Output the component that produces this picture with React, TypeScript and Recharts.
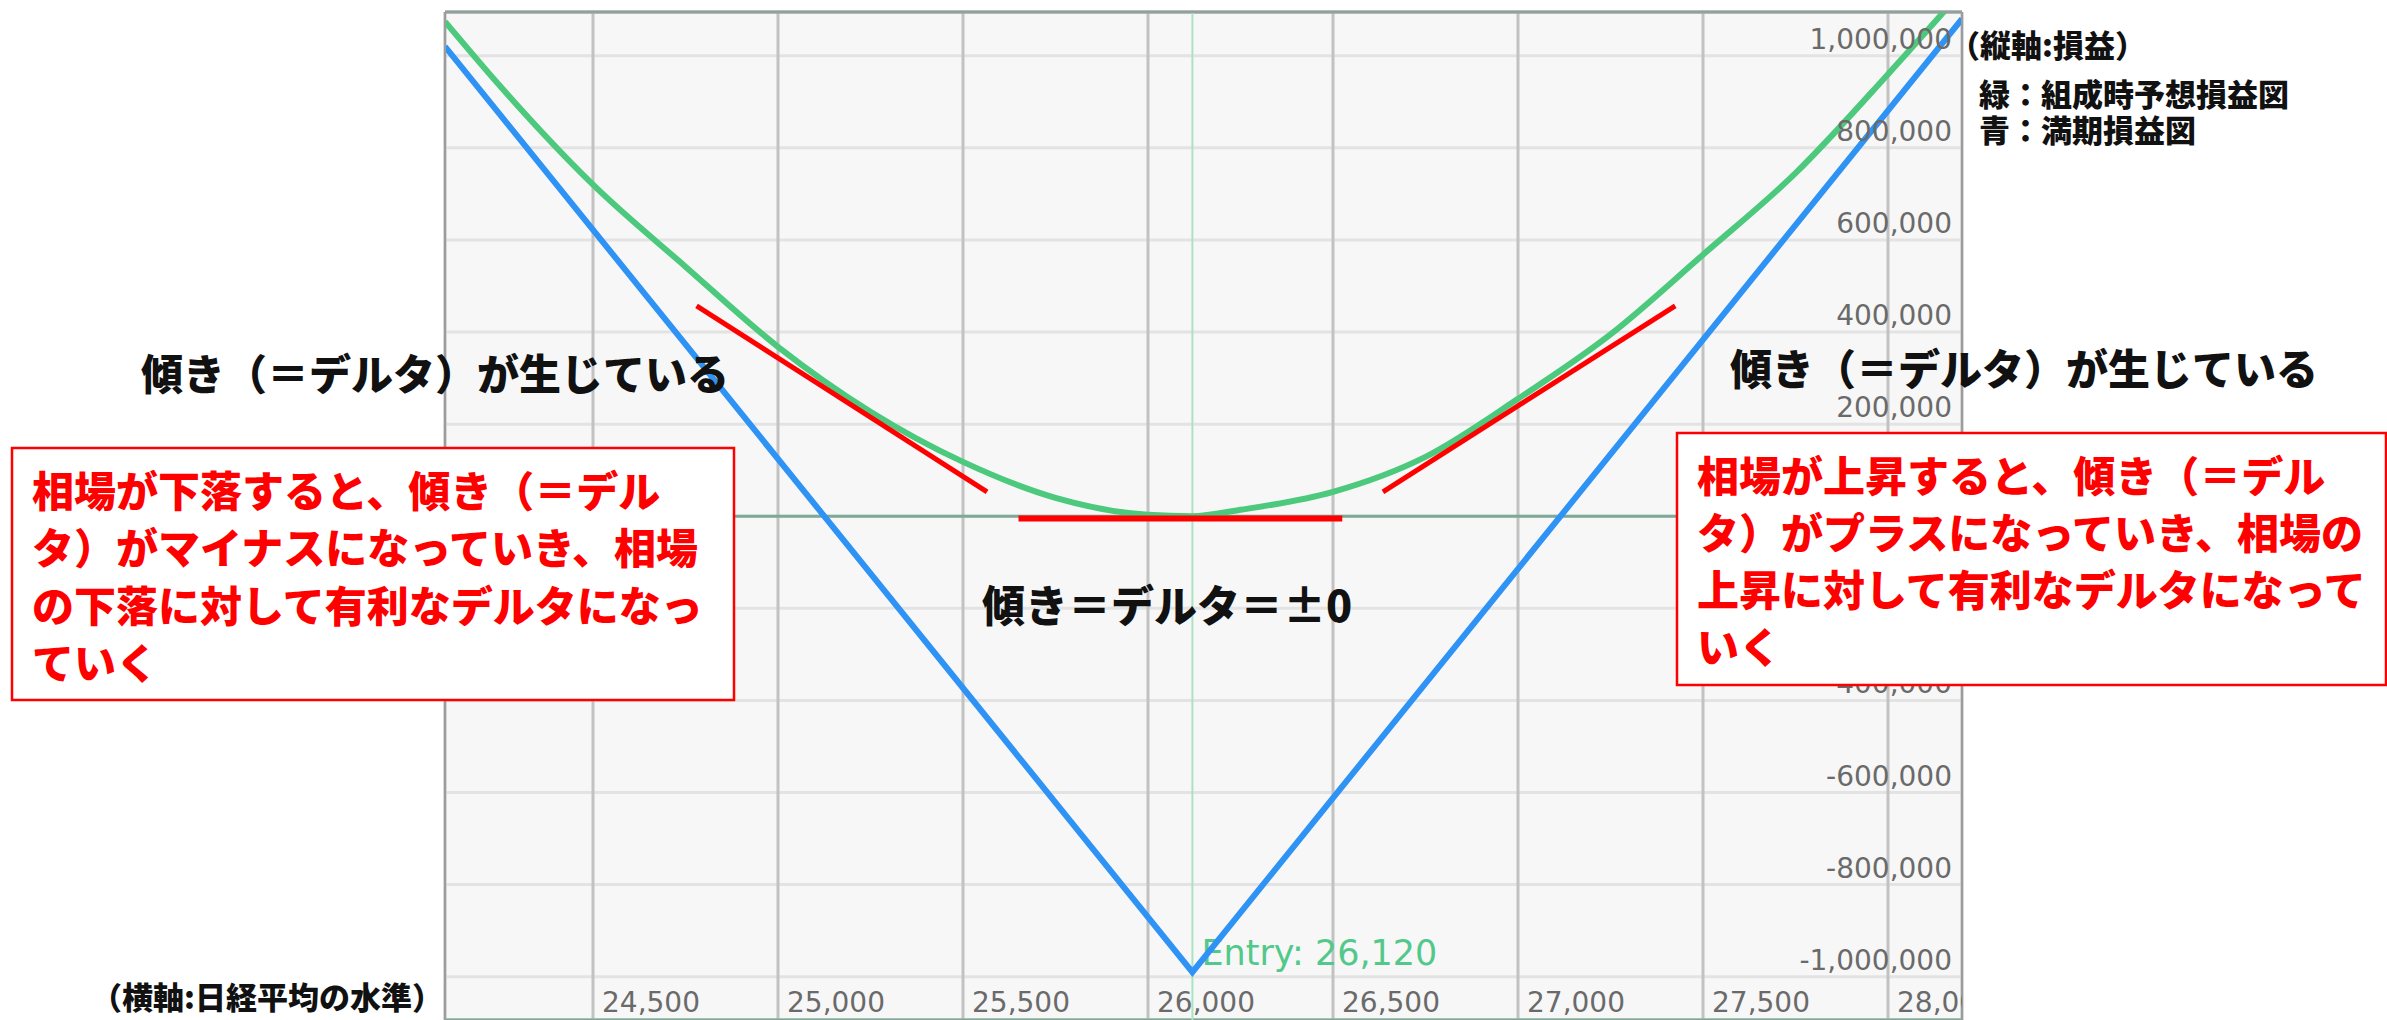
import React from "react";
import {
  ComposedChart,
  Line,
  XAxis,
  YAxis,
  CartesianGrid,
  ReferenceLine,
} from "recharts";

const W = 2387;
const H = 1020;
const PLOT_LEFT = 445;
const PLOT_RIGHT = 1962;
const PLOT_TOP = 12;

const xDomain = [24100, 28200];
const yDomain = [-1094000, 1095000];

const majorXTicks = [24500, 25000, 25500, 26000, 26500, 27000, 27500, 28000];
const minorXTicks = [24250, 24750, 25250, 25750, 26250, 26750, 27250, 27750];
const yTicks = [
  -1000000, -800000, -600000, -400000, -200000, 0, 200000, 400000, 600000, 800000, 1000000,
];
const edgeYTicks = [-1000000, 1000000];
const zeroYTicks = [0];

const entryLevel = 26120;

// 緑：組成時予想損益
const greenPrice = [
  24100, 24250, 24500, 24750, 25000, 25250, 25500, 25750, 26000, 26120, 26250, 26500,
  26750, 27000, 27250, 27500, 27750, 28000, 28200,
];
const greenPnl = [
  1074000, 933000, 720000, 542000, 368000, 227000, 118000, 40000, 3000, 0, 14000, 53000,
  129000, 255000, 395000, 568000, 745000, 960000, 1140000,
];

// 青：満期損益
const bluePrice = [24100, 26120, 28200];
const bluePnl = [1020000, -990000, 1080000];

// 赤い接線 (日経平均, 損益)
const tangentLeft = [
  { x: 24780, y: 457000 },
  { x: 25565, y: 53000 },
];
const tangentFlat = [
  { x: 25650, y: -5000 },
  { x: 26525, y: -5000 },
];
const tangentRight = [
  { x: 26635, y: 53000 },
  { x: 27425, y: 457000 },
];

const greenData = greenPrice.map((x, i) => ({ x, pnl: greenPnl[i] }));
const blueData = bluePrice.map((x, i) => ({ x, pnl: bluePnl[i] }));

const fmt = (v: number) => v.toLocaleString("en-US");

const TICK_FONT = "'DejaVu Sans', Verdana, sans-serif";
const JP_FONT = "'Noto Sans CJK JP', sans-serif";

const XTick = (props: any) => {
  const { x, payload, index } = props;
  const id = `xclip-${index}`;
  return (
    <g>
      <defs>
        <clipPath id={id}>
          <rect x={PLOT_LEFT} y={0} width={PLOT_RIGHT - PLOT_LEFT} height={H} />
        </clipPath>
      </defs>
      <text
        x={x + 9}
        y={H - 8}
        clipPath={`url(#${id})`}
        fontFamily={TICK_FONT}
        fontSize={28}
        fill="#6a6a6a"
        textAnchor="start"
      >
        {fmt(payload.value)}
      </text>
    </g>
  );
};

const YTick = (props: any) => {
  const { y, payload } = props;
  return (
    <text
      x={PLOT_RIGHT - 10}
      y={y - 7}
      fontFamily={TICK_FONT}
      fontSize={28}
      fill="#6a6a6a"
      textAnchor="end"
    >
      {fmt(payload.value)}
    </text>
  );
};

const EntryLabel = (props: any) => {
  const vb = props.viewBox || {};
  return (
    <text
      x={vb.x + 9}
      y={vb.y + vb.height - 55}
      fontFamily={TICK_FONT}
      fontSize={35}
      fill="#52c98a"
    >
      {`Entry: ${fmt(entryLevel)}`}
    </text>
  );
};

const leftBoxLines = [
  "相場が下落すると、傾き（＝デル",
  "タ）がマイナスになっていき、相場",
  "の下落に対して有利なデルタになっ",
  "ていく",
];
const rightBoxLines = [
  "相場が上昇すると、傾き（＝デル",
  "タ）がプラスになっていき、相場の",
  "上昇に対して有利なデルタになって",
  "いく",
];

const border = { stroke: "#9c9c9c", strokeWidth: 2 };

export default function App() {
  return (
    <div style={{ position: "absolute", left: 0, top: 0, width: W, height: H, background: "#fff" }}>
      <ComposedChart
        width={W}
        height={H}
        margin={{ top: PLOT_TOP, left: PLOT_LEFT, right: W - PLOT_RIGHT, bottom: 0 }}
      >
        <XAxis
          xAxisId="x"
          type="number"
          dataKey="x"
          domain={xDomain}
          ticks={majorXTicks}
          allowDataOverflow
          orientation="bottom"
          mirror
          axisLine={false}
          tickLine={false}
          tick={<XTick />}
          interval={0}
        />
        <XAxis
          xAxisId="xMinor"
          type="number"
          dataKey="x"
          domain={xDomain}
          ticks={minorXTicks}
          allowDataOverflow
          orientation="top"
          mirror
          axisLine={border}
          tickLine={false}
          tick={false}
        />
        <YAxis
          yAxisId="y"
          type="number"
          domain={yDomain}
          ticks={yTicks}
          allowDataOverflow
          orientation="right"
          mirror
          axisLine={border}
          tickLine={false}
          tick={<YTick />}
          interval={0}
        />
        <YAxis
          yAxisId="yEdge"
          type="number"
          domain={yDomain}
          ticks={edgeYTicks}
          allowDataOverflow
          orientation="left"
          mirror
          axisLine={border}
          tickLine={false}
          tick={false}
        />
        <YAxis
          yAxisId="yZero"
          type="number"
          domain={yDomain}
          ticks={zeroYTicks}
          allowDataOverflow
          hide
        />
        <CartesianGrid xAxisId="xMinor" yAxisId="y" fill="#f7f7f7" stroke="#e3e3e3" strokeWidth={3} />
        <CartesianGrid xAxisId="x" yAxisId="yEdge" stroke="#c2c2c2" strokeWidth={3} />
        <CartesianGrid xAxisId="x" yAxisId="yZero" vertical={false} stroke="#7ea996" strokeWidth={3} />

        <ReferenceLine
          xAxisId="x"
          yAxisId="y"
          x={entryLevel}
          stroke="#a9e4c2"
          strokeWidth={2}
          label={<EntryLabel />}
        />

        <Line
          xAxisId="x"
          yAxisId="y"
          data={blueData}
          dataKey="pnl"
          type="linear"
          stroke="#2e93f5"
          strokeWidth={6}
          dot={false}
          activeDot={false}
          isAnimationActive={false}
        />
        <Line
          xAxisId="x"
          yAxisId="y"
          data={greenData}
          dataKey="pnl"
          type="monotone"
          stroke="#4cc97d"
          strokeWidth={6}
          dot={false}
          activeDot={false}
          isAnimationActive={false}
        />

        <ReferenceLine xAxisId="x" yAxisId="y" segment={tangentLeft} stroke="#ff0000" strokeWidth={5} ifOverflow="visible" />
        <ReferenceLine xAxisId="x" yAxisId="y" segment={tangentFlat} stroke="#ff0000" strokeWidth={6} ifOverflow="visible" />
        <ReferenceLine xAxisId="x" yAxisId="y" segment={tangentRight} stroke="#ff0000" strokeWidth={5} ifOverflow="visible" />
      </ComposedChart>

      <svg
        width={W}
        height={H}
        style={{ position: "absolute", left: 0, top: 0, pointerEvents: "none" }}
      >
        <g fontFamily={JP_FONT} fontWeight={900} fill="#111" dominantBaseline="central">
          <text x={1949} y={43} fontSize={31}>（縦軸:損益）</text>
          <text x={1979} y={92} fontSize={31}>緑：組成時予想損益図</text>
          <text x={1979} y={128} fontSize={31}>青：満期損益図</text>
          <text x={141} y={371} fontSize={42}>傾き（＝デルタ）が生じている</text>
          <text x={1730} y={366} fontSize={42}>傾き（＝デルタ）が生じている</text>
          <text x={982} y={603} fontSize={43}>傾き＝デルタ＝±0</text>
          <text x={91} y={995} fontSize={31}>（横軸:日経平均の水準）</text>
        </g>

        <rect x={12} y={448} width={722} height={252} fill="#fff" stroke="#ff0000" strokeWidth={2.5} />
        <g fontFamily={JP_FONT} fontWeight={900} fill="#ff0000" fontSize={42} dominantBaseline="central">
          {leftBoxLines.map((t, i) => (
            <text key={i} x={32} y={488 + i * 57.5}>
              {t}
            </text>
          ))}
        </g>

        <rect x={1677} y={433} width={709} height={252} fill="#fff" stroke="#ff0000" strokeWidth={2.5} />
        <g fontFamily={JP_FONT} fontWeight={900} fill="#ff0000" fontSize={42} dominantBaseline="central">
          {rightBoxLines.map((t, i) => (
            <text key={i} x={1697} y={473 + i * 57}>
              {t}
            </text>
          ))}
        </g>
      </svg>
    </div>
  );
}
